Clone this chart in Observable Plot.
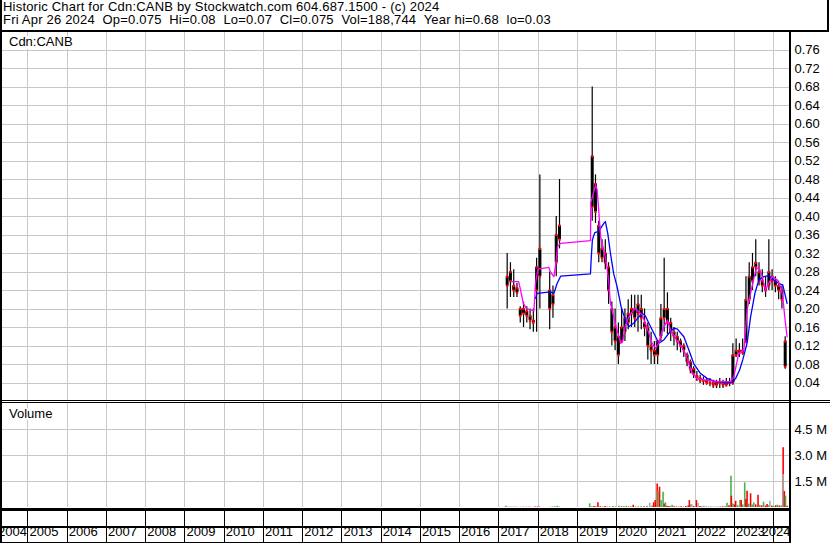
<!DOCTYPE html>
<html>
<head>
<meta charset="utf-8">
<script src="https://cdn.jsdelivr.net/npm/d3@7"></script>
<script src="https://cdn.jsdelivr.net/npm/@observablehq/plot@0.6"></script>
<style>
  html, body { margin: 0; padding: 0; background: #fff; }
  #wrap { position: relative; width: 830px; height: 543px; background: #fff; overflow: hidden;
          font-family: "Liberation Sans", Arial, Helvetica, sans-serif; color: #000; }
  .abs { position: absolute; }
  .txt { position: absolute; font-size: 13px; line-height: 12.7px; white-space: pre; }
  .blk { position: absolute; background: #000; }
</style>
</head>
<body>
<div id="wrap">
  <div class="txt" style="left:3px;top:1px;letter-spacing:0.2px">Historic Chart for Cdn:CANB by Stockwatch.com 604.687.1500 - (c) 2024
Fri Apr 26 2024  Op=0.075  Hi=0.08  Lo=0.07  Cl=0.075  Vol=188,744  Year hi=0.68  lo=0.03</div>
  <div id="price" class="abs" style="left:0;top:31px"></div>
  <div id="vol" class="abs" style="left:0;top:403px"></div>
  <div id="strip" class="abs" style="left:0;top:509px"></div>
  <div class="txt" style="left:7px;top:36px;background:#fff;padding:0 2px">Cdn:CANB</div>
  <div class="txt" style="left:7px;top:407.5px;background:#fff;padding:0 2px">Volume</div>
  <!-- frame lines -->
  <div class="blk" style="left:0;top:30px;width:829px;height:2px"></div>
  <div class="blk" style="left:827px;top:0;width:2px;height:31px"></div>
  <div class="blk" style="left:0;top:0;width:2px;height:543px"></div>
  <div class="blk" style="left:789px;top:30px;width:2px;height:513px"></div>
  <div class="blk" style="left:0;top:399.5px;width:830px;height:1px"></div>
  <div class="blk" style="left:0;top:401.5px;width:830px;height:1.5px"></div>
  <div class="blk" style="left:0;top:507.5px;width:791px;height:3px"></div>
  <div class="blk" style="left:0;top:526px;width:791px;height:2px"></div>
  <div class="blk" style="left:0;top:542px;width:791px;height:1px"></div>
</div>
<script>
// ---------- data ----------
const yearTicks = [2005,2006,2007,2008,2009,2010,2011,2012,2013,2014,2015,2016,2017,2018,2019,2020,2021,2022,2023,2024];
const yearLabels = [2004,2005,2006,2007,2008,2009,2010,2011,2012,2013,2014,2015,2016,2017,2018,2019,2020,2021,2022,2023,2024];
const priceTicks = [0.04,0.08,0.12,0.16,0.20,0.24,0.28,0.32,0.36,0.40,0.44,0.48,0.52,0.56,0.60,0.64,0.68,0.72,0.76];
const volTicks = [1.5e6, 3.0e6, 4.5e6];
const volTickLabels = ["1.5 M", "3.0 M", "4.5 M"];

const barMonths = [
  "2017-03","2017-04","2017-05","2017-06","2017-07","2017-08","2017-09","2017-10","2017-11","2017-12",
  "2018-01","2018-04","2018-05","2018-06","2018-07",
  "2019-05","2019-06","2019-07","2019-08","2019-09","2019-10","2019-11","2019-12",
  "2020-01","2020-02","2020-03","2020-04","2020-05","2020-06","2020-07","2020-08","2020-09","2020-10","2020-11","2020-12",
  "2021-01","2021-02","2021-03","2021-04","2021-05","2021-06","2021-07","2021-08","2021-09","2021-10","2021-11","2021-12",
  "2022-01","2022-02","2022-03","2022-04","2022-05","2022-06","2022-07","2022-08","2022-09","2022-10","2022-11","2022-12",
  "2023-01","2023-02","2023-03","2023-04","2023-05","2023-06","2023-07","2023-08","2023-09","2023-10","2023-11","2023-12",
  "2024-01","2024-02","2024-03","2024-04"];
const barOpen = [
  .27,.28,.25,.245,.20,.19,.195,.185,.175,.24,
  .27,.24,.21,.30,.38,
  .42,.47,.38,.33,.32,.29,.20,.16,
  .14,.13,.15,.17,.19,.20,.19,.20,.17,.16,.12,.11,
  .10,.14,.18,.20,.17,.15,.14,.13,.12,.10,.085,.07,
  .055,.05,.045,.045,.04,.04,.035,.04,.04,.035,.04,.04,
  .10,.11,.105,.13,.22,.26,.30,.28,.26,.245,.25,.27,
  .26,.25,.24,.13];
const barHigh = [
  .32,.30,.285,.255,.205,.215,.205,.20,.20,.31,
  .49,.28,.25,.40,.48,
  .68,.49,.39,.35,.35,.30,.215,.20,
  .17,.20,.20,.22,.23,.23,.23,.23,.20,.17,.15,.13,
  .13,.21,.31,.235,.18,.16,.15,.135,.125,.105,.09,.075,
  .065,.057,.053,.05,.05,.046,.046,.05,.046,.05,.05,.125,
  .135,.125,.135,.27,.30,.32,.35,.30,.285,.27,.35,.285,
  .27,.26,.25,.14];
const barLow = [
  .20,.225,.225,.225,.17,.16,.17,.155,.15,.15,
  .20,.155,.18,.27,.33,
  .39,.385,.30,.30,.285,.21,.12,.11,
  .08,.125,.13,.155,.16,.16,.15,.155,.14,.09,.08,.08,
  .08,.13,.15,.145,.13,.12,.11,.105,.095,.075,.06,.05,
  .043,.039,.035,.035,.032,.028,.028,.028,.028,.032,.032,.035,
  .095,.095,.10,.125,.21,.24,.27,.25,.235,.225,.24,.24,
  .235,.22,.20,.07];
const barClose = [
  .25,.26,.24,.235,.185,.20,.185,.175,.17,.29,
  .33,.20,.23,.36,.35,
  .53,.41,.32,.31,.30,.24,.15,.13,
  .10,.16,.18,.19,.20,.18,.21,.18,.16,.12,.11,.10,
  .13,.18,.20,.17,.15,.14,.13,.12,.11,.085,.07,.06,
  .05,.045,.045,.04,.04,.035,.04,.04,.035,.04,.04,.10,
  .11,.105,.11,.22,.27,.29,.29,.26,.25,.24,.28,.26,
  .25,.24,.22,.075];

// short moving average (magenta)
const maShortT = [2017.33,2017.50,2017.55,2017.62,2017.70,2017.80,2017.89,2017.93,2017.99,2018.27,2018.31,2018.40,2018.45,2018.49,2018.57,
  2019.33,2019.34,2019.46,2019.50,2019.54,2019.59,2019.67,2019.74,2019.80,2019.84,2019.92,
  2020.01,2020.10,2020.15,2020.22,2020.31,2020.39,2020.48,2020.56,2020.65,2020.73,2020.82,2020.90,2020.99,
  2021.07,2021.16,2021.29,2021.37,2021.45,2021.58,2021.71,2021.84,2021.92,
  2022.05,2022.26,2022.60,2022.90,2022.98,
  2023.11,2023.24,2023.32,2023.41,2023.54,2023.62,2023.71,2023.79,2023.87,2023.96,
  2024.09,2024.17,2024.23,2024.28,2024.34];
const maShortV = [0.259,0.259,0.241,0.212,0.201,0.198,0.196,0.255,0.286,0.29,0.28,0.27,0.30,0.335,0.342,
  0.348,0.43,0.468,0.458,0.414,0.356,0.327,0.299,0.255,0.212,0.183,
  0.154,0.126,0.13,0.165,0.183,0.194,0.201,0.194,0.187,0.169,0.147,0.126,0.115,
  0.126,0.154,0.176,0.154,0.144,0.126,0.111,0.082,0.061,
  0.05,0.046,0.043,0.043,0.053,
  0.104,0.111,0.198,0.234,0.284,0.291,0.27,0.241,0.255,0.27,
  0.263,0.248,0.227,0.183,0.14];

// long moving average (blue)
const maLongT = [2017.93,2017.97,2018.31,2018.40,2018.48,2018.57,
  2019.33,2019.35,2019.38,2019.44,2019.54,2019.67,2019.71,2019.77,2019.84,2019.92,
  2020.01,2020.11,2020.22,2020.31,2020.43,2020.56,2020.66,2020.73,2020.86,2020.99,
  2021.07,2021.20,2021.32,2021.45,2021.54,2021.71,2021.84,2021.96,
  2022.13,2022.30,2022.51,2022.77,2022.94,
  2023.03,2023.13,2023.21,2023.32,2023.41,2023.52,2023.62,2023.75,2023.87,
  2024.00,2024.13,2024.23,2024.34];
const maLongV = [0.223,0.234,0.237,0.234,0.255,0.271,
  0.276,0.31,0.35,0.365,0.368,0.385,0.389,0.364,0.32,0.277,
  0.248,0.205,0.176,0.162,0.169,0.183,0.19,0.185,0.162,0.14,
  0.126,0.133,0.147,0.158,0.157,0.14,0.111,0.082,
  0.061,0.05,0.043,0.041,0.041,
  0.05,0.068,0.09,0.126,0.183,0.234,0.263,0.27,0.272,
  0.263,0.255,0.252,0.212];

// volume bars: time, shares, direction
const volT = [2017.17,2017.22,2017.28,2017.33,2017.40,2017.47,2017.55,2017.62,2017.70,2017.78,2017.86,2017.92,2017.98,2018.03,
  2018.30,2018.36,2018.42,2018.48,2018.54,
  2019.31,2019.36,2019.42,2019.47,2019.52,2019.58,2019.64,2019.70,2019.76,2019.82,2019.90,2019.96,
  2020.05,2020.12,2020.18,2020.24,2020.30,2020.36,2020.42,2020.48,2020.55,2020.62,2020.70,2020.77,2020.84,2020.90,2020.94,2020.98,
  2021.03,2021.05,2021.09,2021.13,2021.18,2021.21,2021.24,2021.28,2021.33,2021.37,2021.41,2021.46,2021.52,2021.58,2021.64,2021.70,2021.76,2021.82,2021.85,2021.88,2021.91,2021.96,
  2022.03,2022.07,2022.12,2022.17,2022.22,2022.28,2022.34,2022.40,2022.46,2022.52,2022.58,2022.64,2022.70,2022.76,2022.81,2022.86,2022.91,2022.92,2022.96,
  2023.00,2023.03,2023.08,2023.14,2023.17,2023.21,2023.26,2023.29,2023.32,2023.36,2023.41,2023.45,2023.49,2023.54,2023.60,2023.64,2023.69,2023.74,2023.79,2023.83,2023.87,2023.90,2023.95,
  2024.00,2024.05,2024.09,2024.14,2024.19,2024.24,2024.24,2024.27,2024.30,2024.34];
const volV = [75e3,20e3,15e3,15e3,20e3,15e3,15e3,20e3,15e3,20e3,10e3,25e3,30e3,20e3,
  20e3,30e3,40e3,75e3,30e3,
  210e3,30e3,60e3,40e3,270e3,40e3,30e3,60e3,20e3,30e3,40e3,30e3,
  75e3,40e3,40e3,75e3,30e3,40e3,130e3,40e3,30e3,40e3,40e3,70e3,250e3,90e3,270e3,400e3,
  1360e3,940e3,1170e3,400e3,880e3,200e3,270e3,75e3,60e3,50e3,130e3,40e3,30e3,30e3,40e3,40e3,60e3,80e3,400e3,150e3,170e3,60e3,
  400e3,250e3,60e3,40e3,75e3,30e3,30e3,40e3,30e3,40e3,30e3,30e3,40e3,60e3,250e3,100e3,1810e3,650e3,200e3,
  150e3,360e3,120e3,400e3,400e3,150e3,1420e3,460e3,940e3,200e3,790e3,150e3,270e3,150e3,710e3,120e3,100e3,310e3,80e3,170e3,100e3,360e3,80e3,
  60e3,100e3,130e3,80e3,100e3,3440e3,1900e3,920e3,650e3,75e3];
const volDir = ["up","down","down","down","down","up","up","down","down","down","up","down","down","down",
  "up","up","up","up","up",
  "up","down","down","up","down","down","up","down","down","up","down","up",
  "up","down","up","up","down","up","down","up","down","up","down","up","flat","up","down","down",
  "down","up","down","up","up","down","up","down","down","up","up","down","down","up","down","flat","down","down","down","up","flat","down",
  "down","flat","down","up","flat","down","up","flat","flat","flat","up","down","down","up","up","down","up","down","up",
  "down","down","up","up","down","up","up","down","down","up","down","up","up","down","down","up","down","up","down","down","up","flat","down",
  "up","down","up","down","up","down","flat","down","up","down"];

// ---------- build ----------
const FONT = '"Liberation Sans", Arial, Helvetica, sans-serif';
const X_DOMAIN = [2004.2994, 2024.4013];
const GRID = "#c8c8c8";
const dirColor = {up: "#4cb04c", down: "#ff0000", flat: "#a8a8a8"};

const bars = barMonths.map((m, i) => ({
  t: +m.slice(0, 4) + (+m.slice(5, 7) - 0.5) / 12,
  open: barOpen[i], high: barHigh[i], low: barLow[i], close: barClose[i]
}));
const maShort = maShortT.map((t, i) => ({t, v: maShortV[i]}));
const maLong = maLongT.map((t, i) => ({t, v: maLongV[i]}));
const vols = volT.map((t, i) => ({t, v: volV[i], c: dirColor[volDir[i]]}));

const common = {
  width: 830, marginLeft: 0, marginRight: 41, marginTop: 0, marginBottom: 0,
  x: {domain: X_DOMAIN, axis: null},
  style: {fontFamily: FONT, fontSize: "13px", color: "#000", background: "transparent", overflow: "visible"}
};

const price = Plot.plot({
  ...common,
  height: 370,
  y: {domain: [0, 0.8], axis: null},
  marks: [
    Plot.ruleX(yearTicks, {stroke: GRID, shapeRendering: "crispEdges"}),
    Plot.ruleY(priceTicks, {stroke: GRID, shapeRendering: "crispEdges"}),
    Plot.axisY({ticks: priceTicks, anchor: "right", tickSize: 0, tickPadding: 5, label: null,
      tickFormat: d => d.toFixed(2), fontSize: 13, fill: "#000"}),
    Plot.ruleX(bars, {x: "t", y1: "low", y2: "high", stroke: "#000", strokeWidth: 1.2}),
    Plot.ruleX(bars, {x: "t", y1: d => Math.min(d.open, d.close), y2: d => Math.max(d.open, d.close),
      stroke: "#000", strokeWidth: 3}),
    Plot.dot(bars, {x: "t", y: "open", symbol: "square", r: 1.3, fill: "#ff0000", stroke: null}),
    Plot.dot(bars, {x: "t", y: "close", symbol: "square", r: 1.3, fill: "#ff0000", stroke: null}),
    Plot.line(maLong, {x: "t", y: "v", stroke: "#0000ff", strokeWidth: 1.3}),
    Plot.line(maShort, {x: "t", y: "v", stroke: "#ff00ff", strokeWidth: 1.3})
  ]
});
document.getElementById("price").appendChild(price);

const volume = Plot.plot({
  ...common,
  height: 104,
  y: {domain: [0, 6e6], axis: null},
  color: {type: "identity"},
  marks: [
    Plot.ruleX(yearTicks, {stroke: GRID, shapeRendering: "crispEdges"}),
    Plot.ruleY(volTicks, {stroke: GRID, shapeRendering: "crispEdges"}),
    Plot.axisY({ticks: volTicks, anchor: "right", tickSize: 0, tickPadding: 5, label: null,
      tickFormat: d => volTickLabels[volTicks.indexOf(d)], fontSize: 13, fill: "#000"}),
    Plot.ruleX(vols, {x: "t", y1: 0, y2: "v", stroke: "c", strokeWidth: 1.6})
  ]
});
document.getElementById("vol").appendChild(volume);

const strip = Plot.plot({
  ...common,
  height: 34,
  marks: [
    Plot.ruleX(yearTicks, {stroke: "#000", shapeRendering: "crispEdges"}),
    Plot.text(yearLabels.filter(y => y > 2004 && y < 2024), {x: d => d, text: d => String(d),
      textAnchor: "start", dx: 1.5, frameAnchor: "bottom", dy: -8, fontSize: 13, fill: "#000"}),
    Plot.text(yearLabels.filter(y => y === 2004), {x: d => d + 1, text: d => String(d),
      textAnchor: "end", dx: -1, frameAnchor: "bottom", dy: -8, fontSize: 13, fill: "#000"}),
    Plot.text(yearLabels.filter(y => y === 2024), {x: () => X_DOMAIN[1], text: d => String(d),
      textAnchor: "end", dx: 1, frameAnchor: "bottom", dy: -8, fontSize: 13, fill: "#000"})
  ]
});
document.getElementById("strip").appendChild(strip);
</script>
</body>
</html>
